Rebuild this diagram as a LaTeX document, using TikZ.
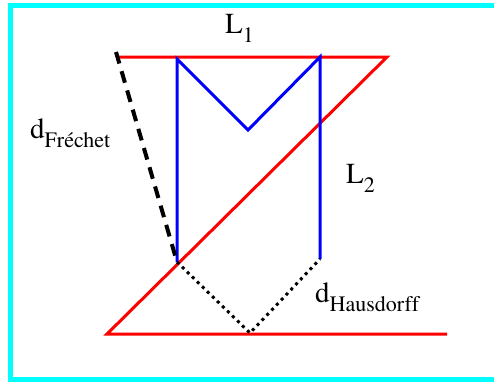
\documentclass[tikz,border=0pt]{standalone}
\usepackage{fontspec}
\setmainfont{Liberation Serif}
\newfontfamily\labelfont{texgyretermes}[Extension=.otf, UprightFont=*-regular, Ligatures=NoCommon]
\definecolor{framecyan}{RGB}{0,255,255}
\definecolor{curvered}{RGB}{255,0,0}
\definecolor{curveblue}{RGB}{0,0,255}
\newcommand{\lowsub}[1]{\raisebox{-9.5pt}{\fontsize{22}{22}\selectfont #1}}
\begin{document}
\begin{tikzpicture}[
x=1pt, y=-1pt,
redline/.style={draw=curvered, line width=3pt},
blueline/.style={draw=curveblue, line width=3pt},
frechetline/.style={draw=black, line width=4pt, dash pattern=on 12pt off 8pt},
hausline/.style={draw=black, line width=3pt, dash pattern=on 3pt off 4pt},
lbl/.style={anchor=base west, inner sep=0pt, font=\labelfont\fontsize{29}{29}\selectfont}
]
\useasboundingbox (0,0) rectangle (494,381);
\draw[framecyan, line width=5pt] (10.5,5) rectangle (500,379);

% curve L1 (red)
\coordinate (r1) at (117,57);
\coordinate (r2) at (387,57);
\coordinate (r3) at (107,334);
\coordinate (r4) at (447,334);

% curve L2 (blue)
\coordinate (b1) at (177,262);
\coordinate (b2) at (177,59);
\coordinate (b3) at (248,130);
\coordinate (b4) at (320,57);
\coordinate (b5) at (320,259);

% distance points
\coordinate (f0) at (116,52);
\coordinate (h0) at (250,333);

\draw[redline] (r1) -- (r2) -- (r3) -- (r4);
\draw[blueline] (b1) -- (b2) -- (b3) -- (b4) -- (b5);
\draw[frechetline] (f0) -- (b1);
\draw[hausline] (b1) -- (h0) -- (b5);

\node[lbl] (l1) at (225,33) {L\lowsub{1}};
\node[lbl] (l2) at (346,183) {L\lowsub{2}};
\node[lbl] (dfr) at (30,138) {d\lowsub{Fréchet}};
\node[lbl] (dha) at (315,302) {d\lowsub{Hausdorff}};

\end{tikzpicture}
\end{document}
